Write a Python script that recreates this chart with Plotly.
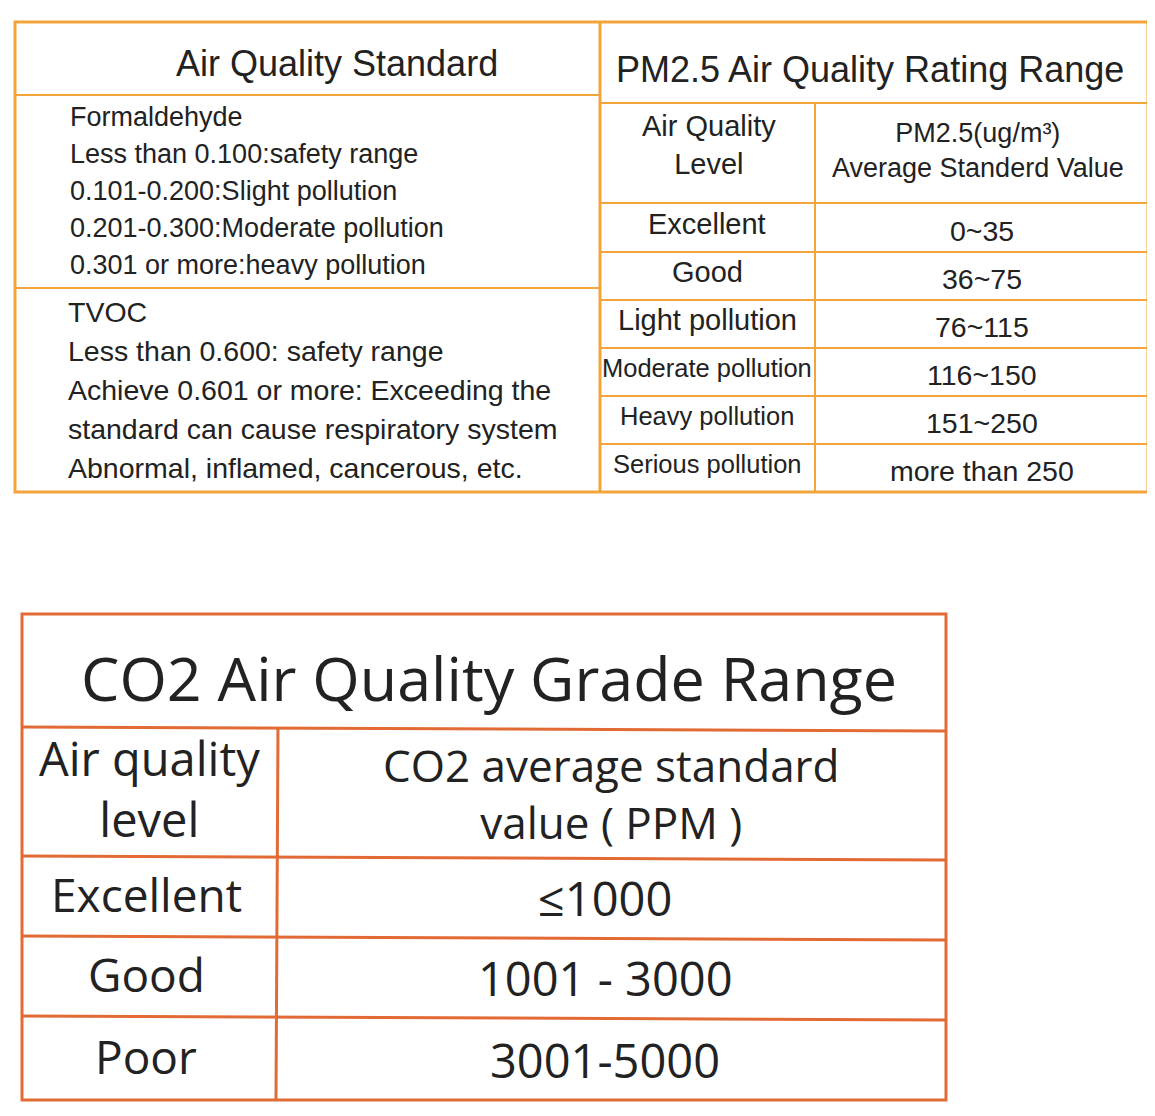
import plotly.graph_objects as go

# top-left block text
formaldehyde_lines = ["Formaldehyde", "Less than 0.100:safety range", "0.101-0.200:Slight pollution",
                      "0.201-0.300:Moderate pollution", "0.301 or more:heavy pollution"]
tvoc_lines = ["TVOC", "Less than 0.600: safety range", "Achieve 0.601 or more: Exceeding the",
              "standard can cause respiratory system", "Abnormal, inflamed, cancerous, etc."]
# PM2.5 table
pm_levels = ["Excellent", "Good", "Light pollution", "Moderate pollution", "Heavy pollution", "Serious pollution"]
pm_values = ["0~35", "36~75", "76~115", "116~150", "151~250", "more than 250"]
# CO2 table
co2_levels = ["Excellent", "Good", "Poor"]
co2_values = ["≤1000", "1001 - 3000", "3001-5000"]

ORANGE = "#F2A43A"
RED = "#E26A35"
TXT = "#222222"
TOPFONT = "Liberation Sans"
BOTFONT = "Open Sans"

fig = go.Figure()
shapes = []
ann = []

def line(x0, y0, x1, y1, c, w):
    shapes.append(dict(type="line", x0=x0, y0=y0, x1=x1, y1=y1, xref="x", yref="y",
                       line=dict(color=c, width=w)))

def text(x, y, s, size, family, anchor="center"):
    ann.append(dict(x=x, y=y, text=s, showarrow=False, xref="x", yref="y", xanchor=anchor,
                    yanchor="middle", font=dict(size=size, family=family, color=TXT)))

# ---- top table ----
shapes.append(dict(type="rect", x0=15, y0=22, x1=1148, y1=492, xref="x", yref="y",
                   line=dict(color=ORANGE, width=3)))
line(600, 22, 600, 492, ORANGE, 3)
line(15, 95, 600, 95, ORANGE, 2)
line(15, 288, 600, 288, ORANGE, 2)
text(337, 63, "Air Quality Standard", 36, TOPFONT)
for i, s in enumerate(formaldehyde_lines):
    text(68, 117 + i * 37, s, 27, TOPFONT, "left")
for i, s in enumerate(tvoc_lines):
    text(66, 312 + i * 39, s, 28.5, TOPFONT, "left")

line(600, 103, 1148, 103, ORANGE, 2)
line(815, 103, 815, 492, ORANGE, 2)
text(870, 69, "PM2.5 Air Quality Rating Range", 36, TOPFONT)
text(709, 145, "Air Quality<br>Level", 29, TOPFONT)
text(978, 150, "PM2.5(ug/m³)<br>Average Standerd Value", 27, TOPFONT)
level_sizes = [29, 29, 29, 25.5, 25.5, 25.5]
row_edges = [203, 252, 300, 348, 396, 444, 492]
for i, (lv, val) in enumerate(zip(pm_levels, pm_values)):
    line(600, row_edges[i], 1148, row_edges[i], ORANGE, 2)
    yc = (row_edges[i] + row_edges[i + 1]) / 2
    text(707, yc - 4, lv, level_sizes[i], TOPFONT)
    text(982, yc + 3, val, 28.5, TOPFONT)

# ---- bottom table ----
shapes.append(dict(type="rect", x0=22, y0=614, x1=946, y1=1100, xref="x", yref="y",
                   line=dict(color=RED, width=3)))
line(22, 727, 946, 731, RED, 3)
line(278, 727, 276, 1100, RED, 3)
text(489, 677, "CO2 Air Quality Grade Range", 61, BOTFONT)
text(149, 788, "Air quality<br>level", 47, BOTFONT)
text(611, 793, "CO2 average standard<br>value ( PPM )", 44, BOTFONT)
co2_edges = [856, 936, 1016, 1100]
for i, (lv, val) in enumerate(zip(co2_levels, co2_values)):
    line(22, co2_edges[i], 946, co2_edges[i] + 4, RED, 3)
    yc = (co2_edges[i] + co2_edges[i + 1]) / 2
    text(146, yc - 2, lv, 46, BOTFONT)
    text(605, yc + 2, val, 47, BOTFONT)

# page body has an 8px margin, so shift the ranges to land marks on the same pixels
fig.update_layout(width=1155, height=1116, margin=dict(l=0, r=0, t=0, b=0),
                  paper_bgcolor="white", plot_bgcolor="white", shapes=shapes, annotations=ann,
                  xaxis=dict(range=[8, 1163], visible=False, fixedrange=True),
                  yaxis=dict(range=[1124, 8], visible=False, fixedrange=True),
                  showlegend=False)
fig.write_html("out.html")
